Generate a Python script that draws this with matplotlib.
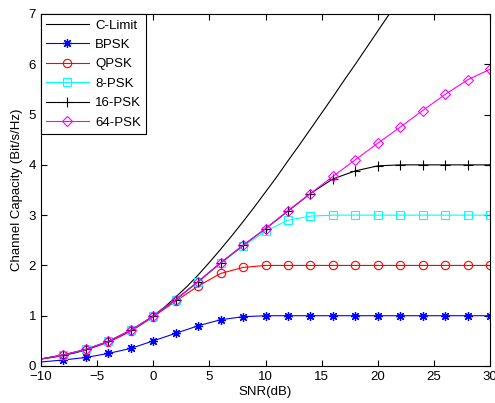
import numpy as np
import matplotlib
matplotlib.use('Agg')
import matplotlib.pyplot as plt

plt.rcParams['font.family'] = ['Liberation Sans', 'DejaVu Sans']
plt.rcParams['font.size'] = 9.5

# SNR grid in dB
snr = [-10, -8, -6, -4, -2, 0, 2, 4, 6, 8, 10, 12, 14, 16, 18, 20, 22, 24, 26, 28, 30]

# Shannon limit (goes off the top after ~21 dB)
snr_limit = [-10, -9, -8, -7, -6, -5, -4, -3, -2, -1, 0, 1, 2, 3, 4, 5, 6, 7, 8,
             9, 10, 11, 12, 13, 14, 15, 16, 17, 18, 19, 20, 21, 22]
c_limit = [0.14, 0.17, 0.21, 0.26, 0.32, 0.40, 0.49, 0.59, 0.71, 0.84, 1.00,
           1.17, 1.37, 1.58, 1.81, 2.06, 2.32, 2.59, 2.87, 3.16, 3.46, 3.76,
           4.08, 4.39, 4.71, 5.03, 5.35, 5.68, 6.00, 6.33, 6.66, 6.99, 7.32]

bpsk = [0.08, 0.12, 0.17, 0.25, 0.35, 0.50, 0.65, 0.80, 0.92, 0.98, 1.00, 1.00,
        1.00, 1.00, 1.00, 1.00, 1.00, 1.00, 1.00, 1.00, 1.00]
qpsk = [0.14, 0.22, 0.32, 0.47, 0.69, 0.98, 1.29, 1.59, 1.84, 1.96, 2.00, 2.00,
        2.00, 2.00, 2.00, 2.00, 2.00, 2.00, 2.00, 2.00, 2.00]
psk8 = [0.14, 0.22, 0.33, 0.49, 0.71, 0.99, 1.32, 1.67, 2.04, 2.38, 2.68, 2.90,
        2.98, 3.00, 3.00, 3.00, 3.00, 3.00, 3.00, 3.00, 3.00]
psk16 = [0.14, 0.22, 0.33, 0.49, 0.71, 0.99, 1.32, 1.68, 2.05, 2.40, 2.73, 3.08,
         3.43, 3.72, 3.88, 3.98, 4.00, 4.00, 4.00, 4.00, 4.00]
psk64 = [0.14, 0.22, 0.33, 0.49, 0.71, 0.99, 1.32, 1.68, 2.05, 2.40, 2.73, 3.09,
         3.43, 3.77, 4.10, 4.43, 4.75, 5.08, 5.40, 5.69, 5.90]

fig = plt.figure(figsize=(4.95, 4.03), dpi=100)
ax = fig.add_axes([41 / 495, 37 / 403, 449 / 495, 352 / 403])

lw = 0.8
ms = 5.5
mk = slice(1, None)
asterisk = (8, 2, 0)  # plus and cross combined
ax.plot(snr_limit, c_limit, color='k', lw=lw, label='C-Limit')
ax.plot(snr, bpsk, color='#0000FF', lw=lw, marker=asterisk, ms=ms + 1, markevery=mk,
        mec='#0000FF', mew=0.9, label='BPSK')
ax.plot(snr, qpsk, color='#FF0000', lw=lw, marker='o', ms=ms + 0.5, markevery=mk,
        mfc='none', mec='#FF0000', mew=0.8, label='QPSK')
ax.plot(snr, psk8, color='#00FFFF', lw=lw, marker='s', ms=ms, markevery=mk,
        mfc='none', mec='#00FFFF', mew=0.8, label='8-PSK')
ax.plot(snr, psk16, color='k', lw=lw, marker='+', ms=ms + 1.5, markevery=mk,
        mew=0.8, label='16-PSK')
ax.plot(snr, psk64, color='#FF00FF', lw=lw, marker='D', ms=ms - 0.3, markevery=mk,
        mfc='none', mec='#FF00FF', mew=0.8, label='64-PSK')

ax.set_xlim(-10, 30)
ax.set_ylim(0, 7)
ax.set_xticks(np.arange(-10, 31, 5))
ax.set_yticks(np.arange(0, 8, 1))
ax.tick_params(direction='in', top=True, right=True, length=4, width=0.8)
for s in ax.spines.values():
    s.set_linewidth(0.8)

ax.set_xlabel('SNR(dB)', labelpad=2)
ax.set_ylabel('Channel Capacity (Bit/s/Hz)', labelpad=4)

leg = ax.legend(loc='upper left', fancybox=False, edgecolor='k', framealpha=1,
                borderaxespad=0, handlelength=3.2, labelspacing=0.55,
                borderpad=0.4, handletextpad=0.5)
leg.get_frame().set_linewidth(0.8)

fig.savefig('out.png', dpi=100)
